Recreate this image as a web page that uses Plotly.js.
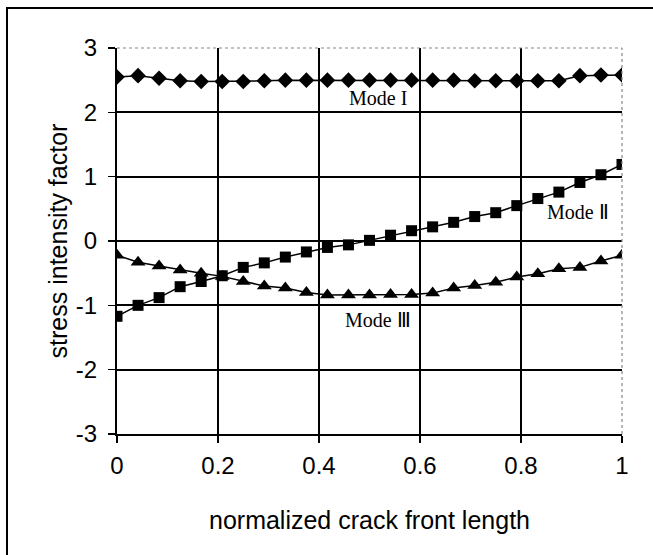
<!DOCTYPE html>
<html>
<head>
<meta charset="utf-8">
<script src="https://cdn.plot.ly/plotly-3.0.1.min.js"></script>
<style>html,body{margin:0;padding:0;background:#fff;}#chart{width:653px;height:555px;}</style>
</head>
<body>
<div id="chart"></div>
<script>
// normalized crack front positions (25 points, step 1/24)
var xPositions = [0, 1/24, 2/24, 3/24, 4/24, 5/24, 6/24, 7/24, 8/24, 9/24, 10/24, 11/24, 12/24,
  13/24, 14/24, 15/24, 16/24, 17/24, 18/24, 19/24, 20/24, 21/24, 22/24, 23/24, 1];
var modeI = [2.55, 2.57, 2.53, 2.49, 2.48, 2.48, 2.48, 2.49, 2.50, 2.50, 2.50, 2.50, 2.50,
  2.50, 2.50, 2.50, 2.50, 2.49, 2.49, 2.49, 2.49, 2.49, 2.57, 2.58, 2.58];
var modeII = [-1.17, -1.00, -0.88, -0.71, -0.63, -0.54, -0.41, -0.34, -0.25, -0.17, -0.10, -0.06, 0.01,
  0.09, 0.16, 0.22, 0.29, 0.38, 0.44, 0.55, 0.66, 0.76, 0.91, 1.03, 1.19];
var modeIII = [-0.22, -0.33, -0.39, -0.45, -0.50, -0.55, -0.63, -0.70, -0.73, -0.80, -0.84, -0.84, -0.84,
  -0.83, -0.83, -0.81, -0.73, -0.69, -0.64, -0.56, -0.51, -0.43, -0.41, -0.31, -0.22];
var xTicks = [0, 0.2, 0.4, 0.6, 0.8, 1];
var xTickText = ['0', '0.2', '0.4', '0.6', '0.8', '1'];
var yTicks = [-3, -2, -1, 0, 1, 2, 3];
var yTickText = ['-3', '-2', '-1', '0', '1', '2', '3'];
var labelTexts = ['Mode I', 'Mode \u2161', 'Mode \u2162'];
var labelX = [0.517, 0.912, 0.516];
var labelY = [2.23, 0.45, -1.23];

var lineStyle = {color: '#000', width: 1.5};
var traces = [
  {x: xPositions, y: modeI, mode: 'lines+markers', line: lineStyle,
   marker: {symbol: 'diamond', size: 12, color: '#000'}, name: 'Mode I'},
  {x: xPositions, y: modeII, mode: 'lines+markers', line: lineStyle,
   marker: {symbol: 'square', size: 11, color: '#000'}, name: 'Mode II'},
  {x: xPositions, y: modeIII, mode: 'lines+markers', line: lineStyle,
   marker: {symbol: 'triangle-up', size: 13, color: '#000'}, name: 'Mode III'}
];

var plotW = 505, plotH = 386, plotLeft = 117, plotTop = 48;
function px(xp) { return (xp - plotLeft) / plotW; }
function py(yp) { return (plotTop + plotH - yp) / plotH; }

var annotations = labelTexts.map(function (t, i) {
  return {x: labelX[i], y: labelY[i], xref: 'x', yref: 'y', text: t, showarrow: false,
    font: {family: 'Liberation Serif, Times New Roman, serif', size: 20, color: '#000'}};
});

var layout = {
  width: 653, height: 555,
  margin: {l: 117, r: 31, t: 48, b: 121, pad: 0},
  paper_bgcolor: '#fff', plot_bgcolor: '#fff',
  showlegend: false,
  font: {family: 'Liberation Sans, Arial, sans-serif', size: 24, color: '#000'},
  xaxis: {
    range: [0, 1], tickvals: xTicks, ticktext: xTickText,
    showgrid: true, gridcolor: '#000', gridwidth: 2,
    zeroline: false, showline: true, linecolor: '#000', linewidth: 2,
    ticks: 'outside', ticklen: 7, tickcolor: '#000', tickwidth: 1.2,
    ticklabelstandoff: 2,
    title: {text: 'normalized crack front length', font: {size: 25}, standoff: 34}
  },
  yaxis: {
    range: [-3, 3], tickvals: yTicks, ticktext: yTickText,
    showgrid: true, gridcolor: '#000', gridwidth: 2,
    zeroline: false, showline: true, linecolor: '#000', linewidth: 2,
    ticks: 'outside', ticklen: 7, tickcolor: '#000', tickwidth: 1.2,
    ticklabelstandoff: 6,
    title: {text: 'stress intensity factor', font: {size: 25}, standoff: 1}
  },
  annotations: annotations,
  shapes: [
    {type: 'line', xref: 'paper', yref: 'paper', x0: 0, x1: 1, y0: 1, y1: 1,
     line: {color: '#888', width: 1.2, dash: 'dot'}},
    {type: 'line', xref: 'paper', yref: 'paper', x0: 1, x1: 1, y0: 0, y1: 1,
     line: {color: '#888', width: 1.2, dash: 'dot'}},
    {type: 'rect', xref: 'paper', yref: 'paper', x0: px(7), x1: px(670), y0: py(570), y1: py(8),
     line: {color: '#000', width: 2}, fillcolor: 'rgba(0,0,0,0)', layer: 'above'}
  ]
};

Plotly.newPlot('chart', traces, layout, {displayModeBar: false, staticPlot: true});
</script>
</body>
</html>
